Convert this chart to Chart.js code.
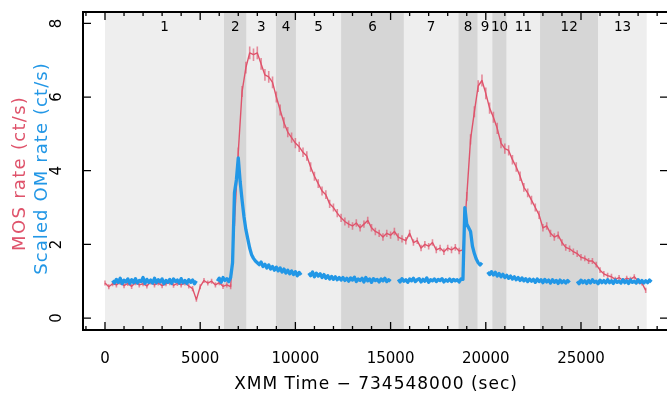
<!DOCTYPE html>
<html>
<head>
<meta charset="utf-8">
<script src="https://cdn.jsdelivr.net/npm/chart.js@4.4.0/dist/chart.umd.min.js"></script>
<style>
  html, body { margin: 0; padding: 0; background: #fff; overflow: hidden; }
  canvas { display: block; }
</style>
</head>
<body>
<canvas id="lcChart" width="672" height="399"></canvas>
<script>
/* MOS light curve, 200 s bins starting at t = 0 */
const mosStart = 0;
const mosBin = 200;
const mosRate = [
  0.95, 0.85, 0.93, 0.90, 0.97, 0.88, 0.94, 0.86, 0.96, 0.90,
  0.93, 0.87, 0.98, 0.90, 0.95, 0.88, 0.93, 0.96, 0.89, 0.94,
  0.90, 0.95, 0.87, 0.80, 0.50, 0.85, 1.02, 0.95, 1.00, 0.90,
  0.96, 0.86, 0.90, 0.85, 2.60, 4.50, 6.15, 6.80, 7.20, 7.15,
  7.20, 6.90, 6.60, 6.55, 6.40, 6.00, 5.65, 5.30, 5.05, 4.90,
  4.75, 4.65, 4.50, 4.40, 4.10, 3.85, 3.65, 3.45, 3.35, 3.10,
  3.00, 2.85, 2.72, 2.62, 2.55, 2.50, 2.58, 2.45, 2.55, 2.65,
  2.45, 2.35, 2.30, 2.20, 2.30, 2.25, 2.35, 2.20, 2.15, 2.10,
  2.30, 2.05, 2.10, 1.90, 2.00, 1.95, 2.05, 1.85, 1.90, 1.80,
  1.90, 1.85, 1.92, 1.82, 1.85, 3.30, 4.85, 5.60, 6.30, 6.45,
  6.10, 5.70, 5.45, 5.15, 4.75, 4.60, 4.55, 4.30, 4.10, 3.85,
  3.55, 3.40, 3.20, 3.00, 2.80, 2.45, 2.50, 2.30, 2.20, 2.25,
  2.05, 1.92, 1.88, 1.80, 1.75, 1.65, 1.62, 1.55, 1.55, 1.45,
  1.30, 1.20, 1.15, 1.12, 1.05, 1.10, 1.02, 1.08, 1.05, 1.12,
  1.00, 0.95, 0.75
];
const mosErr = [
  0.07, 0.07, 0.07, 0.07, 0.07, 0.07, 0.07, 0.07, 0.07, 0.07,
  0.07, 0.07, 0.07, 0.07, 0.07, 0.07, 0.07, 0.07, 0.07, 0.07,
  0.07, 0.07, 0.07, 0.07, 0.06, 0.07, 0.07, 0.07, 0.07, 0.07,
  0.07, 0.07, 0.07, 0.07, 0.10, 0.13, 0.15, 0.16, 0.17, 0.17,
  0.17, 0.16, 0.16, 0.16, 0.16, 0.15, 0.15, 0.15, 0.14, 0.14,
  0.14, 0.14, 0.13, 0.13, 0.13, 0.12, 0.12, 0.12, 0.12, 0.11,
  0.11, 0.11, 0.11, 0.11, 0.10, 0.10, 0.10, 0.10, 0.10, 0.10,
  0.10, 0.10, 0.10, 0.10, 0.10, 0.10, 0.10, 0.10, 0.10, 0.10,
  0.10, 0.09, 0.09, 0.09, 0.09, 0.09, 0.09, 0.09, 0.09, 0.09,
  0.09, 0.09, 0.09, 0.09, 0.09, 0.12, 0.14, 0.15, 0.16, 0.16,
  0.16, 0.15, 0.15, 0.15, 0.14, 0.14, 0.14, 0.13, 0.13, 0.13,
  0.12, 0.12, 0.12, 0.11, 0.11, 0.10, 0.10, 0.10, 0.10, 0.10,
  0.09, 0.09, 0.09, 0.09, 0.09, 0.09, 0.08, 0.08, 0.08, 0.08,
  0.08, 0.08, 0.08, 0.08, 0.07, 0.07, 0.07, 0.07, 0.07, 0.07,
  0.07, 0.07, 0.07
];

/* scaled OM rate, 100 s bins starting at t = 400 (null = no data) */
const omStart = 400;
const omBin = 100;
const omRate = [
  1.02, 0.95, 1.05, 0.97, 1.08, 0.93, 1.03, 0.98, 1.06, 0.94,
  1.04, 0.96, 1.07, 0.95, 1.02, 0.99, 1.10, 0.94, 1.05, 0.97,
  1.03, 0.95, 1.08, 0.96, 1.04, 0.98, 1.06, 0.93, 1.02, 0.97,
  1.05, 0.94, 1.06, 0.99, 1.03, 0.95, 1.07, 0.96, 1.02, 0.94,
  1.04, 0.97, 1.03, 0.93, 1.01, null, null, null, null, null,
  null, null, null, null, null, 1.00, 1.08, 0.97, 1.10, 1.02,
  1.07, 0.99, 1.10, 1.50, 3.40, 3.75, 4.35, 3.70, 3.20, 2.75,
  2.40, 2.15, 1.90, 1.72, 1.62, 1.55, 1.50, 1.45, 1.52, 1.40,
  1.46, 1.36, 1.44, 1.33, 1.40, 1.30, 1.38, 1.28, 1.36, 1.25,
  1.33, 1.22, 1.30, 1.20, 1.28, 1.18, 1.26, 1.15, 1.24, 1.17,
  null, null, null, 1.22, 1.15, 1.25, 1.12, 1.22, 1.14, 1.20,
  1.10, 1.18, 1.08, 1.15, 1.06, 1.13, 1.05, 1.12, 1.04, 1.10,
  1.03, 1.10, 1.02, 1.08, 1.00, 1.09, 1.03, 1.11, 0.99, 1.06,
  1.02, 1.08, 0.98, 1.10, 1.01, 1.06, 0.97, 1.07, 1.02, 1.05,
  0.98, 1.06, 1.01, 1.08, 0.99, 1.04, 1.00, null, null, null,
  1.05, 0.98, 1.07, 1.00, 1.04, 0.97, 1.06, 1.01, 1.08, 0.99,
  1.04, 1.07, 0.98, 1.05, 1.00, 1.09, 0.97, 1.04, 1.01, 1.06,
  0.99, 1.05, 1.02, 1.07, 0.98, 1.04, 1.00, 1.06, 0.99, 1.05,
  1.01, 1.04, 0.98, 1.06, 1.05, 3.00, 2.55, 2.45, 2.35, 1.95,
  1.75, 1.60, 1.50, 1.44, 1.50, null, null, 1.25, 1.18, 1.26,
  1.17, 1.24, 1.14, 1.21, 1.12, 1.19, 1.10, 1.16, 1.08, 1.14,
  1.06, 1.12, 1.04, 1.10, 1.02, 1.09, 1.01, 1.07, 0.99, 1.06,
  1.00, 1.05, 0.97, 1.06, 0.99, 1.04, 0.96, 1.05, 0.98, 1.03,
  0.95, 1.04, 0.97, 1.02, 0.94, 1.03, 0.96, 1.01, 0.95, 1.02,
  0.96, null, null, null, 1.00, 0.93, 1.03, 0.96, 1.01, 0.94,
  1.02, 0.95, 1.04, 0.97, 1.00, 0.93, 1.03, 0.96, 1.02, 0.95,
  1.04, 0.96, 1.01, 0.94, 1.03, 0.97, 1.00, 0.95, 1.04, 0.96,
  1.01, 0.94, 1.03, 0.97, 1.00, 0.95, 1.04, 0.96, 1.02, 0.95,
  1.01, 0.96, 1.03, 0.98
];

/* time intervals shaded in the background */
const bandEdges = [0, 6250, 7440, 8980, 10030, 12400, 15700, 18560, 19580, 20340, 21100, 22850, 25910, 28450];
const bandNames = ["1", "2", "3", "4", "5", "6", "7", "8", "9", "10", "11", "12", "13"];

const xTickVals = [0, 5000, 10000, 15000, 20000, 25000];
const yTickVals = [0, 2, 4, 6, 8];

const RED = "#DF536B";
const BLUE = "#2297E6";
const FONT = '"DejaVu Sans", sans-serif';

// texto rotado con espaciado
function rotText(ctx, txt, x, y, color, size, spacing) {
  ctx.save();
  ctx.translate(x, y);
  ctx.rotate(-Math.PI / 2);
  ctx.font = size + "px " + FONT;
  ctx.letterSpacing = spacing + "px";
  ctx.fillStyle = color;
  ctx.textAlign = "center";
  ctx.textBaseline = "middle";
  ctx.fillText(txt, spacing / 2, 0);
  ctx.restore();
}

// fondo, barras de error, marco y ticks hacia adentro
const lcDecor = {
  id: "lcDecor",
  beforeDatasetsDraw(chart) {
    const { ctx, chartArea: a } = chart;
    const x = chart.scales.x;
    ctx.save();
    for (let i = 0; i < bandNames.length; i++) {
      const x0 = x.getPixelForValue(bandEdges[i]);
      const x1 = x.getPixelForValue(bandEdges[i + 1]);
      ctx.fillStyle = i % 2 ? "#d6d6d6" : "#eeeeee";
      ctx.fillRect(x0, a.top, x1 - x0, a.bottom - a.top);
    }
    ctx.fillStyle = "#000";
    ctx.font = "13.5px " + FONT;
    ctx.textAlign = "center";
    ctx.textBaseline = "middle";
    for (let i = 0; i < bandNames.length; i++) {
      const x0 = x.getPixelForValue(bandEdges[i]);
      const x1 = x.getPixelForValue(bandEdges[i + 1]);
      ctx.fillText(bandNames[i], (x0 + x1) / 2, a.top + 15);
    }
    ctx.restore();
  },
  beforeDatasetDraw(chart, args) {
    if (args.index !== 0) return;
    const { ctx } = chart;
    const x = chart.scales.x;
    const y = chart.scales.y;
    ctx.save();
    ctx.strokeStyle = "rgba(223, 83, 107, 0.65)";
    ctx.lineWidth = 1.6;
    ctx.beginPath();
    for (let i = 0; i < mosRate.length; i++) {
      const px = x.getPixelForValue(mosStart + i * mosBin);
      ctx.moveTo(px, y.getPixelForValue(mosRate[i] - mosErr[i]));
      ctx.lineTo(px, y.getPixelForValue(mosRate[i] + mosErr[i]));
    }
    ctx.stroke();
    ctx.restore();
  },
  afterDraw(chart) {
    const { ctx, chartArea: a } = chart;
    const x = chart.scales.x;
    const y = chart.scales.y;
    ctx.save();
    ctx.strokeStyle = "#000";
    ctx.lineWidth = 1.3;
    ctx.beginPath();
    for (let t = -1000; t <= 29000; t += 1000) {
      const px = x.getPixelForValue(t);
      const len = t % 5000 === 0 ? 8 : 4;
      ctx.moveTo(px, a.bottom);
      ctx.lineTo(px, a.bottom - len);
      ctx.moveTo(px, a.top);
      ctx.lineTo(px, a.top + len);
    }
    yTickVals.forEach((v) => {
      const py = y.getPixelForValue(v);
      ctx.moveTo(a.left, py);
      ctx.lineTo(a.left + 8, py);
      ctx.moveTo(a.right, py);
      ctx.lineTo(a.right - 8, py);
    });
    ctx.stroke();
    ctx.lineWidth = 2;
    ctx.strokeRect(a.left, a.top, a.right - a.left, a.bottom - a.top);

    // etiquetas del eje y, rotadas
    yTickVals.forEach((v) => {
      rotText(ctx, String(v), 57, y.getPixelForValue(v), "#000", 15, 0);
    });
    const mid = (a.top + a.bottom) / 2;
    rotText(ctx, "MOS rate (ct/s)", 20, mid + 3, RED, 18, 1.3);
    rotText(ctx, "Scaled OM rate (ct/s)", 42, mid - 2, BLUE, 18, 1.1);

    // título del eje x
    ctx.font = "17px " + FONT;
    ctx.letterSpacing = "1px";
    ctx.fillStyle = "#000";
    ctx.textAlign = "center";
    ctx.textBaseline = "middle";
    ctx.fillText("XMM Time \u2212 734548000 (sec)", (a.left + 668) / 2 + 0.5, 385);
    ctx.restore();
  }
};

new Chart(document.getElementById("lcChart"), {
  type: "line",
  data: {
    datasets: [
      {
        label: "MOS",
        data: mosRate.map((v, i) => ({ x: mosStart + i * mosBin, y: v })),
        borderColor: RED,
        borderWidth: 1.4,
        borderJoinStyle: "round",
        pointRadius: 0,
        tension: 0,
        order: 1
      },
      {
        label: "OM",
        data: omRate.map((v, i) => ({ x: omStart + i * omBin, y: v })),
        borderColor: BLUE,
        borderWidth: 3.3,
        borderJoinStyle: "round",
        borderCapStyle: "butt",
        pointRadius: 0,
        tension: 0,
        spanGaps: false,
        order: 0
      }
    ]
  },
  options: {
    responsive: false,
    animation: false,
    devicePixelRatio: 1,
    layout: { padding: { top: 12, right: 4, left: 0, bottom: 0 } },
    plugins: { legend: { display: false }, tooltip: { enabled: false } },
    scales: {
      x: {
        type: "linear",
        min: -1155,
        max: 29570,
        grid: { display: false },
        border: { display: false },
        afterBuildTicks: (s) => { s.ticks = xTickVals.map((v) => ({ value: v })); },
        afterFit: (s) => { s.height = 69; },
        ticks: {
          color: "#000",
          font: { family: FONT, size: 15 },
          padding: 12,
          maxRotation: 0,
          callback: (v) => String(v)
        }
      },
      y: {
        type: "linear",
        min: -0.325,
        max: 8.31,
        grid: { display: false },
        border: { display: false },
        ticks: { display: false },
        afterFit: (s) => { s.width = 83; }
      }
    }
  },
  plugins: [lcDecor]
});
</script>
</body>
</html>
